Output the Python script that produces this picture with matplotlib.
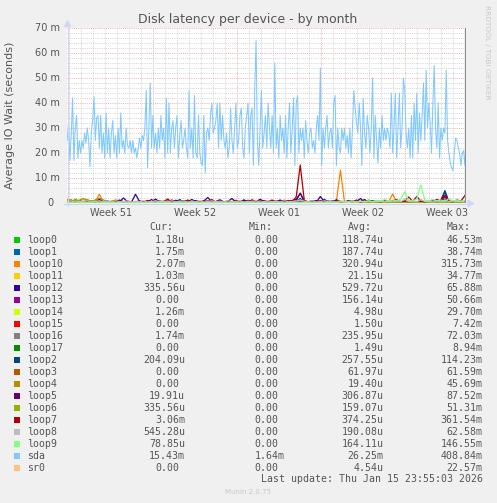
import matplotlib
matplotlib.use("Agg")
import matplotlib.pyplot as plt
import numpy as np
from matplotlib.patches import Rectangle, Polygon
from matplotlib.lines import Line2D

W, H = 497, 503
BG = "#F0F0F0"
FG = "#555555"
AXIS = "#CFD6F8"
GRID = "#D4D4D4"
MGRID = "#F2B0B0"
MONO = "DejaVu Sans Mono"

# time in days, day 0 = first weekly grid line (Sun Dec 14)
T_FIRST, T_LAST = -0.15, 33.0

# disk latency values in milli-seconds
sda = [25, 32, 17, 27, 42, 17, 30, 35, 18, 25, 20, 25, 22, 28, 24, 30, 25, 14.5, 28, 33,
       42.5, 25, 34, 35, 22, 35, 20, 28, 18, 36, 20, 30, 18, 28, 33, 20, 27, 18, 30, 20,
       36, 22, 25, 20, 30, 23, 22, 25, 20, 25, 20, 22, 18, 22, 26, 22, 27, 25, 30, 45,
       14, 30, 48, 22, 35, 22, 28, 20, 30, 22, 35, 25, 30,
       18, 42, 20, 40, 20, 30, 33, 22, 30, 35, 18, 27, 33, 22, 25, 30, 22, 18, 45, 22,
       30, 18, 43, 20, 18, 35, 20, 16, 15, 35, 12, 28, 30, 25, 35, 40, 28, 30, 33, 40,
       22, 40, 25, 35, 25, 22, 28, 18, 22, 38, 25, 20, 30, 40, 22, 25, 35, 38, 22, 18,
       30, 35, 40, 20, 35, 38, 15, 45, 65, 25, 15, 30, 45, 22, 28, 35, 22, 40,
       30, 22, 35, 20, 56, 22, 30, 18, 35, 25, 30, 20, 35, 18, 30, 40, 20, 30, 42, 15,
       40, 43, 20, 30, 25, 30, 18, 33, 25, 20, 28, 30, 22, 25, 20, 30, 35, 25, 54, 15,
       30, 22, 30, 35, 22, 28, 30, 22, 40, 43, 15, 30, 22, 20, 30, 25, 30, 22, 27, 20,
       30, 18, 30, 45, 38, 32, 28, 40, 30, 15, 42, 28, 22, 35, 30, 20, 30, 50,
       18, 35, 25, 16, 30, 22, 35, 25, 30, 25, 30, 28, 22, 44, 20, 30, 44, 18, 30, 44,
       22, 30, 50, 45, 28, 22, 30, 18, 35, 18, 40, 25, 44, 20, 36, 25, 35, 48, 25, 53,
       30, 40, 32, 20, 40, 55, 30, 22, 40, 18, 30, 25, 30, 28, 53, 25, 20, 16, 14, 13,
       20, 26, 25, 22, 20, 15, 20, 21, 15]

loop0 = [0.8, 0.4, 1.2, 0.5, 0.3, 0.9, 0.4, 0.6, 0.3, 0.5, 0.3, 0.2, 0.4, 0.2, 0.3, 0.5, 0.2, 0.3, 0.2, 0.4,
         0.2, 0.3, 0.2, 0.4, 0.2, 0.3, 0.2, 0.5, 0.2, 0.3, 0.2, 0.4, 0.2, 0.3, 0.2, 0.3, 0.2, 0.4, 0.2, 0.3,
         0.2, 0.3, 0.2, 0.4, 0.2, 0.3, 0.2, 0.3, 0.2, 0.4, 0.2, 0.3, 0.2, 0.4, 0.2, 0.3, 0.2, 0.3, 0.5, 0.3,
         0.2, 0.4, 0.2, 0.3, 0.2, 0.3, 0.2, 0.4, 0.2, 0.3, 0.2, 0.3, 0.2, 0.4, 0.2, 1.2, 0.3, 0.4, 0.2, 0.5,
         0.3, 0.4, 0.2, 0.6, 0.3, 0.4, 0.2, 0.5, 0.3, 0.4, 0.2, 0.5, 0.3, 0.4, 0.8, 0.3, 0.5, 0.2, 0.4, 0.3]
loop1 = [0.3, 0.2, 0.5, 0.2, 0.3, 0.2, 0.4, 0.2, 0.3, 0.2, 0.4, 0.2, 0.3, 0.6, 0.2, 0.3, 0.2, 0.4, 0.2, 0.3,
         0.2, 0.5, 0.2, 0.3, 0.2, 0.4, 0.2, 0.3, 0.2, 0.6, 0.2, 0.3, 0.2, 0.4, 0.2, 0.3, 0.2, 0.5, 0.2, 0.3,
         0.2, 0.4, 0.2, 0.3, 0.2, 0.6, 0.2, 0.3, 0.2, 0.4, 0.2, 0.3, 0.2, 0.5, 0.2, 0.3, 0.2, 0.4, 1.0, 0.3,
         0.2, 0.4, 0.2, 0.3, 0.2, 0.5, 0.2, 0.3, 0.2, 0.4, 0.2, 0.3, 0.2, 0.5, 0.2, 0.3, 0.2, 0.4, 0.2, 0.3,
         0.2, 0.3, 0.2, 0.4, 0.2, 0.3, 0.2, 0.3, 0.2, 0.4, 0.2, 0.3, 0.2, 0.4, 1.5, 0.3, 0.2, 0.3, 0.2, 0.3]
loop10 = [0, 0.1, 0, 0.2, 0, 0.1, 0.3, 0.5, 3.5, 0.3, 0.1, 0, 0.2, 0, 0.1, 0, 0.3, 0, 0.1, 0,
          0.2, 0, 0.1, 0, 0, 0.3, 0, 0.1, 0, 0.2, 0, 0.1, 0, 0.2, 0, 0, 0.1, 0, 0.3, 0,
          0.1, 0, 0.2, 0, 0.1, 0, 0, 0.2, 0, 0.1, 0, 0.3, 0, 0.1, 0, 0.2, 0, 0.1, 0.6, 0.2,
          0, 0.1, 0, 0.2, 0, 0.1, 0.3, 0.8, 13.2, 0.5, 0.1, 0, 0.2, 0, 0.1, 0, 0.2, 0, 0.1, 0.3,
          0.5, 3.6, 0.3, 0.1, 0, 0.2, 0, 0.1, 0.3, 0, 0.1, 0, 0.2, 0.4, 0.8, 0.2, 0, 0.1, 0.3, 0.5]
loop11 = [1.0, 0.3, 1.5, 0.2, 0.8, 0.3, 0.6, 0.1, 0.2, 0.1, 0, 0.1, 0, 0, 0.1, 0, 0, 0.1, 0, 0,
          0.1, 0, 0, 0.1, 0, 0, 0, 0.1, 0, 0, 0.1, 0, 0, 0, 0.1, 0, 0, 0.1, 0, 0,
          0.1, 0, 0, 0.2, 0, 0, 0.1, 0, 0, 0.1]
loop12 = [0.4, 1.2, 0.3, 0.8, 0.2, 1.0, 0.5, 0.3, 1.5, 0.4, 0.6, 0.3, 1.0, 0.4, 2.0, 0.5, 0.3, 3.5, 0.6, 0.4,
          0.8, 0.5, 1.6, 0.3, 0.7, 0.4, 1.2, 0.5, 0.3, 0.9, 0.4, 1.4, 0.6, 0.3, 0.8, 2.2, 0.4, 0.5, 1.0, 0.3,
          0.6, 1.8, 0.4, 0.7, 0.3, 1.1, 0.5, 0.4, 1.5, 0.6, 0.3, 0.8, 0.5, 1.2, 0.4, 0.6, 1.0, 1.5, 3.8, 0.6,
          0.4, 0.9, 0.3, 2.6, 0.5, 0.7, 0.4, 1.3, 0.5, 0.3, 1.0, 0.4, 0.6, 1.8, 0.3, 0.5, 0.9, 0.4, 0.7, 0.3,
          0.5, 0.3, 0.8, 0.4, 0.6, 0.3, 0.5, 0.4, 0.3, 0.6, 0.4, 0.8, 0.5, 1.2, 4.5, 0.6, 0.4, 0.8, 0.5, 0.3]
loop13 = [0.2, 0.4, 0.2, 0.3, 0.6, 0.2, 0.3, 0.2, 0.5, 0.2, 0.3, 0.2, 0.4, 0.2, 0.3, 0.8, 0.2, 0.3, 0.2, 0.4,
          0.2, 0.3, 0.2, 0.5, 0.2, 0.3, 0.2, 0.4, 0.2, 0.3, 0.7, 0.2, 0.3, 0.2, 0.4, 0.2, 0.3, 0.2, 0.5, 0.2,
          0.3, 0.2, 0.4, 0.2, 0.3, 0.2, 0.6, 0.2, 0.3, 0.2, 0.4, 0.2, 0.3, 0.2, 0.5, 0.2, 0.3, 0.2, 0.4, 0.2,
          0.3, 0.2, 0.5, 0.2, 0.3, 0.2, 0.4, 0.2, 0.3, 0.2, 0.6, 0.2, 0.3, 0.2, 0.4, 0.2, 0.3, 0.2, 0.5, 0.2,
          0.3, 0.2, 0.4, 0.2, 0.3, 0.2, 0.4, 0.2, 0.3, 0.2, 0.4, 0.2, 0.3, 0.2, 2.5, 0.3, 0.2, 0.4, 0.2, 0.3]
loop14 = [0.2, 0.8, 0.1, 0, 0, 0, 0, 0, 0, 0, 0, 0, 0, 0, 0, 0, 0, 0, 0, 0,
          0, 0, 0, 0, 0, 0, 0, 0, 0, 0, 0, 0, 0, 0, 0, 0, 0, 0, 0, 0,
          0, 0, 0, 0, 0, 0, 0, 0, 0, 0.3]
loop15 = [0, 0, 0, 0, 0, 0, 0, 0, 0, 0]
loop16 = [0.5, 0.3, 0.6, 0.4, 0.7, 0.3, 0.5, 0.4, 0.6, 0.3, 0.4, 0.6, 0.3, 0.5, 0.4, 0.7, 0.3, 0.5, 0.4, 0.6,
          0.3, 0.5, 0.4, 0.6, 0.3, 0.5, 0.4, 0.8, 0.3, 0.5, 0.4, 0.6, 0.3, 0.5, 0.4, 0.7, 0.3, 0.5, 0.4, 0.6,
          0.3, 0.5, 0.4, 0.6, 0.3, 0.5, 0.4, 0.7, 0.3, 0.5, 0.4, 0.6, 0.3, 0.5, 0.4, 0.6, 0.3, 0.5, 0.8, 0.4,
          0.5, 0.3, 0.6, 0.4, 0.5, 0.3, 0.6, 0.4, 0.5, 0.3, 0.6, 0.4, 0.5, 0.3, 0.6, 0.4, 0.5, 0.3, 0.6, 0.4,
          0.5, 0.3, 0.4, 0.6, 0.3, 0.5, 0.4, 0.6, 0.3, 0.5, 0.4, 0.6, 0.3, 0.5, 0.7, 0.4, 0.5, 0.3, 0.6, 0.4]
loop17 = [0, 0, 0, 0, 0, 0, 0, 0, 0, 0]
loop2 = [0.2, 0.4, 0.3, 0.2, 0.5, 0.3, 0.2, 0.4, 0.2, 0.3, 0.3, 0.5, 0.2, 0.4, 0.3, 0.6, 0.2, 0.4, 0.3, 0.5,
         0.2, 0.4, 0.7, 0.3, 0.2, 0.5, 0.3, 0.4, 1.4, 0.3, 0.2, 0.5, 0.3, 0.4, 0.2, 0.6, 0.3, 0.2, 0.5, 0.3,
         0.4, 0.2, 0.5, 0.3, 1.2, 0.3, 0.4, 0.2, 0.5, 0.3, 0.2, 0.4, 0.3, 0.6, 0.2, 0.4, 0.3, 0.5, 1.8, 0.4,
         0.3, 0.5, 0.2, 0.4, 1.5, 0.3, 0.2, 0.4, 0.3, 0.5, 0.2, 0.4, 0.3, 0.5, 0.2, 0.4, 0.3, 0.6, 0.2, 0.3,
         0.2, 0.3, 0.2, 0.4, 0.2, 0.3, 0.2, 0.4, 0.2, 0.3, 0.2, 0.4, 0.3, 0.6, 5.0, 0.4, 0.3, 0.2, 0.4, 0.3]
loop3 = [0.2, 0.5, 0.1, 0.3, 0.1, 0.2, 0.1, 0.4, 0.1, 0.2, 0.1, 0.3, 0.1, 0.2, 0.1, 0.3, 0.1, 0.2, 0.1, 0.2,
         0.1, 0.3, 0.1, 0.2, 0.1, 0.2, 0.1, 0.3, 0.1, 0.2, 0.1, 0.2, 0.1, 0.3, 0.1, 0.2, 0.1, 0.2, 0.1, 0.3,
         0.1, 0.2, 0.1, 0.2, 0.1, 0.3, 0.1, 0.2, 0.1, 0.2]
loop4 = [1.5, 0.5, 1.8, 0.6, 2.0, 0.4, 1.2, 0.3, 0.5, 0.2, 0.1, 0, 0.1, 0, 0, 0.1, 0, 0, 0.1, 0,
         0, 0.1, 0, 0, 0.1, 0, 0, 0, 0.1, 0, 0, 0.1, 0, 0, 0, 0.1, 0, 0, 0.1, 0,
         0, 0, 0.1, 0, 0, 0.1, 0, 0, 0.1, 0]
loop5 = [0.3, 0.6, 0.2, 0.9, 0.4, 0.3, 0.7, 0.2, 0.5, 0.3, 0.8, 0.4, 0.3, 1.2, 0.5, 0.3, 0.6, 0.4, 0.9, 0.3,
         0.5, 1.4, 0.3, 0.6, 0.4, 0.8, 0.3, 1.1, 0.5, 0.4, 0.7, 0.3, 1.0, 0.5, 0.4, 0.8, 0.3, 0.6, 1.3, 0.4,
         0.5, 0.3, 0.9, 0.4, 1.2, 0.5, 0.3, 0.7, 0.4, 1.0, 0.5, 0.3, 0.8, 0.4, 1.1, 0.5, 0.3, 0.9, 4.0, 0.8,
         0.4, 0.6, 1.0, 0.3, 0.7, 0.4, 0.9, 0.5, 0.3, 0.6, 0.4, 0.8, 0.3, 0.6, 1.4, 0.4, 0.3, 0.7, 0.5, 0.3,
         0.4, 0.3, 0.6, 0.2, 0.5, 0.3, 0.4, 0.2, 0.6, 0.3, 0.5, 0.3, 0.7, 1.0, 3.0, 0.8, 0.3, 0.5, 0.4, 0.6]
loop6 = [1.2, 0.4, 1.6, 0.8, 0.3, 1.4, 0.5, 1.0, 0.3, 0.7, 0.4, 0.6, 0.3, 0.5, 0.2, 0.4, 0.2, 0.5, 0.2, 0.3,
         0.2, 0.4, 0.2, 0.3, 0.2, 0.5, 0.2, 0.3, 0.2, 0.4, 0.2, 0.3, 0.2, 0.4, 0.2, 0.3, 0.2, 0.5, 0.2, 0.3,
         0.2, 0.4, 0.2, 0.3, 0.2, 0.4, 0.2, 0.3, 0.2, 0.5, 0.2, 0.3, 0.2, 0.4, 0.2, 0.3, 0.2, 0.4, 0.2, 0.3,
         0.2, 0.4, 0.2, 0.3, 0.2, 0.5, 0.2, 0.3, 0.2, 0.4, 0.2, 0.3, 0.2, 0.4, 0.2, 0.3, 0.2, 0.4, 0.2, 0.3,
         0.2, 0.4, 0.2, 0.3, 0.2, 0.4, 0.2, 0.3, 0.2, 0.4, 0.2, 0.3, 0.2, 0.4, 0.2, 0.3, 0.2, 0.4, 0.2, 0.3]
loop7 = [0.2, 0.5, 0.3, 0.4, 0.2, 0.6, 0.3, 0.2, 0.4, 0.3, 0.5, 0.3, 0.8, 0.2, 0.4, 0.6, 0.3, 0.5, 0.2, 0.4,
         1.0, 0.4, 0.3, 0.8, 0.5, 1.6, 0.4, 0.3, 0.7, 0.5, 1.2, 0.4, 0.6, 0.3, 0.9, 0.5, 1.4, 0.3, 0.6, 0.4,
         0.8, 0.5, 1.1, 0.3, 0.6, 0.4, 1.3, 0.5, 0.8, 0.4, 0.6, 1.2, 0.4, 0.7, 0.5, 1.0, 0.6, 2.5, 15.2, 1.0,
         0.5, 0.8, 0.4, 1.0, 0.5, 0.7, 0.4, 0.9, 0.6, 0.4, 0.8, 0.5, 1.2, 0.4, 0.6, 1.0, 0.5, 0.8, 0.4, 1.1,
         0.6, 0.9, 1.3, 0.5, 0.8, 2.4, 0.6, 2.6, 0.7, 0.5, 1.0, 0.6, 1.4, 0.8, 3.2, 0.7, 0.5, 1.2, 0.8, 3.0]
loop8 = [0.6, 0.8, 0.4, 0.7, 0.5, 0.9, 0.4, 0.6, 0.8, 0.5, 0.7, 0.4, 0.9, 0.5, 0.6, 0.8, 0.4, 0.7, 0.5, 0.9,
         0.4, 0.6, 0.8, 0.5, 0.7, 0.4, 0.9, 0.5, 0.6, 0.8, 0.4, 0.7, 0.5, 0.9, 0.4, 0.6, 0.8, 0.5, 0.7, 0.4,
         0.9, 0.5, 0.6, 0.8, 0.4, 0.7, 0.5, 0.9, 0.4, 0.6, 0.8, 0.5, 0.7, 0.4, 0.9, 0.5, 0.6, 0.8, 1.2, 0.7,
         0.5, 0.9, 0.4, 0.6, 0.8, 0.5, 0.7, 0.4, 0.9, 0.5, 0.6, 0.8, 0.4, 0.7, 0.5, 0.9, 0.4, 0.6, 0.8, 0.5,
         0.7, 0.4, 1.0, 0.5, 1.6, 0.6, 0.8, 0.5, 1.4, 0.6, 0.7, 0.4, 0.9, 0.5, 1.2, 0.6, 0.8, 0.5, 0.7, 0.4]
loop9 = [0.1, 0.2, 0.1, 0.3, 0.1, 0.2, 0.1, 0.4, 0.1, 0.2, 0.1, 0.3, 0.1, 0.2, 0.1, 0.2, 0.1, 0.3, 0.1, 0.2,
         0.1, 0.2, 0.1, 0.3, 0.1, 0.2, 0.1, 0.2, 0.1, 0.3, 0.1, 0.2, 0.1, 0.2, 0.1, 0.3, 0.1, 0.2, 0.1, 0.2,
         0.1, 0.3, 0.1, 0.2, 0.1, 0.2, 0.1, 0.3, 0.1, 0.2, 0.1, 0.2, 0.1, 0.3, 0.1, 0.2, 0.1, 0.2, 0.1, 0.3,
         0.1, 0.2, 0.1, 0.2, 0.1, 0.3, 0.1, 0.2, 0.5, 0.3, 0.2, 0.4, 0.3, 0.6, 0.4, 0.8, 0.5, 1.0, 0.6, 1.4,
         0.8, 1.2, 0.7, 1.5, 4.5, 1.0, 0.8, 1.6, 7.2, 1.2, 0.9, 1.4, 0.8, 1.2, 0.6, 1.8, 0.9, 1.1, 0.7, 1.0]
sr0 = [0, 0, 0, 0, 0, 0, 0, 0, 0, 0]

names = ["loop0", "loop1", "loop10", "loop11", "loop12", "loop13", "loop14", "loop15", "loop16",
         "loop17", "loop2", "loop3", "loop4", "loop5", "loop6", "loop7", "loop8", "loop9", "sda", "sr0"]
series = [loop0, loop1, loop10, loop11, loop12, loop13, loop14, loop15, loop16,
          loop17, loop2, loop3, loop4, loop5, loop6, loop7, loop8, loop9, sda, sr0]
colors = ["#00CC00", "#0066B3", "#FF8000", "#FFCC00", "#330099", "#990099", "#CCFF00", "#FF0000",
          "#808080", "#008F00", "#00487D", "#B35A00", "#B38F00", "#6B006B", "#8FB300", "#B30000",
          "#BEBEBE", "#80FF80", "#80C9FF", "#FFC080"]
cur = ["1.18u", "1.75m", "2.07m", "1.03m", "335.56u", "0.00", "1.26m", "0.00", "1.74m", "0.00",
       "204.09u", "0.00", "0.00", "19.91u", "335.56u", "3.06m", "545.28u", "78.85u", "15.43m", "0.00"]
mins = ["0.00"] * 18 + ["1.64m", "0.00"]
avgs = ["118.74u", "187.74u", "320.94u", "21.15u", "529.72u", "156.14u", "4.98u", "1.50u", "235.95u",
        "1.49u", "257.55u", "61.97u", "19.40u", "306.87u", "159.07u", "374.25u", "190.08u", "164.11u",
        "26.25m", "4.54u"]
maxs = ["46.53m", "38.74m", "315.73m", "34.77m", "65.88m", "50.66m", "29.70m", "7.42m", "72.03m",
        "8.94m", "114.23m", "61.59m", "45.69m", "87.52m", "51.31m", "361.54m", "62.58m", "146.55m",
        "408.84m", "22.57m"]

week_labels = ["Week 51", "Week 52", "Week 01", "Week 02", "Week 03"]
week_mid = [3.5, 10.5, 17.5, 24.5, 31.5]
ytick_vals = [0, 10, 20, 30, 40, 50, 60, 70]
ytick_labels = ["0", "10 m", "20 m", "30 m", "40 m", "50 m", "60 m", "70 m"]


def fx(px):
    return px / W


def fy(py):
    return 1 - py / H


fig = plt.figure(figsize=(W / 100, H / 100), dpi=100, facecolor=BG)
ax = fig.add_axes([fx(67), fy(203), 399 / W, 175 / H])
ax.set_facecolor("white")
ax.set_xlim(-2 / 12, 397 / 12)
ax.set_ylim(0, 70)
for s in ax.spines.values():
    s.set_visible(False)

# dotted grid: daily / 2m minor, weekly / 10m major
for d in range(0, 34):
    ax.axvline(d, color=MGRID if d % 7 == 0 else GRID, lw=0.7, ls=(0, (1, 1.2)), zorder=0.5)
for v in range(2, 71, 2):
    ax.axhline(v, color=MGRID if v % 10 == 0 else GRID, lw=0.7, ls=(0, (1, 1.2)), zorder=0.5)

for vals, col in zip(series, colors):
    t = np.linspace(T_FIRST, T_LAST, len(vals))
    lw = 0.75 if vals is sda else 0.9
    ax.plot(t, vals, color=col, lw=lw, zorder=2)

ax.axvline(T_LAST + 0.04, color="#8C8C8C", lw=0.9, zorder=3)

ax.set_xticks(week_mid, week_labels)
ax.set_yticks([])
ax.tick_params(axis="x", length=0, pad=3.6, labelsize=7, labelcolor=FG)
for v, lab in zip(ytick_vals, ytick_labels):
    off = -5.0 if lab != "0" else -10.0
    ax.annotate(lab, xy=(0, v), xycoords=("axes fraction", "data"), xytext=(off, 0),
                textcoords="offset points", ha="right", va="center", fontsize=7, color=FG)

# axes with arrows
fig.add_artist(Line2D([fx(67.5), fx(67.5)], [fy(206), fy(25)], color=AXIS, lw=0.8))
fig.add_artist(Polygon([[fx(64.5), fy(26.5)], [fx(70.5), fy(26.5)], [fx(67.5), fy(21)]],
                       closed=True, color=AXIS))
fig.add_artist(Line2D([fx(64), fx(469)], [fy(203.5), fy(203.5)], color=AXIS, lw=0.8))
fig.add_artist(Polygon([[fx(468), fy(200.5)], [fx(468), fy(206.5)], [fx(473.5), fy(203.5)]],
                       closed=True, color=AXIS))

fig.text(fx(248), fy(19), "Disk latency per device - by month", ha="center", va="center",
         fontsize=9, color=FG)
fig.text(fx(10.5), fy(115), "Average IO Wait (seconds)", rotation=90, ha="center", va="center",
         fontsize=8, color=FG)
fig.text(fx(487), fy(5), "RRDTOOL / TOBI OETIKER", rotation=270, ha="center", va="top",
         fontsize=5.3, color="#C8C8C8")

# legend table
CW = 5.97
cols_right = [185, 284.3, 383.3, 482.7]
for h, xr in zip(["Cur:", "Min:", "Avg:", "Max:"], cols_right):
    fig.text(fx(xr - 2 * CW), fy(227.3), h, ha="right", va="center", fontfamily=MONO,
             fontsize=7.1, color=FG)
for k, name in enumerate(names):
    y = 240 + 12 * k
    fig.add_artist(Rectangle((fx(14), fy(y + 3)), 6 / W, 6 / H, color=colors[k], lw=0))
    fig.text(fx(26.7), fy(y), name, ha="left", va="center", fontfamily=MONO, fontsize=7.1, color=FG)
    for val, xr in zip([cur[k], mins[k], avgs[k], maxs[k]], cols_right):
        shift = 0 if val[-1] in "um" else CW
        fig.text(fx(xr - shift), fy(y), val, ha="right", va="center", fontfamily=MONO,
                 fontsize=7.1, color=FG)

fig.text(fx(482.7), fy(479.3), "Last update: Thu Jan 15 23:55:03 2026", ha="right", va="center",
         fontfamily=MONO, fontsize=7.1, color=FG)
fig.text(fx(248), fy(492), "Munin 2.0.75", ha="center", va="center", fontsize=5, color="#C8C8C8")

fig.savefig("out.png", dpi=100, facecolor=BG)
